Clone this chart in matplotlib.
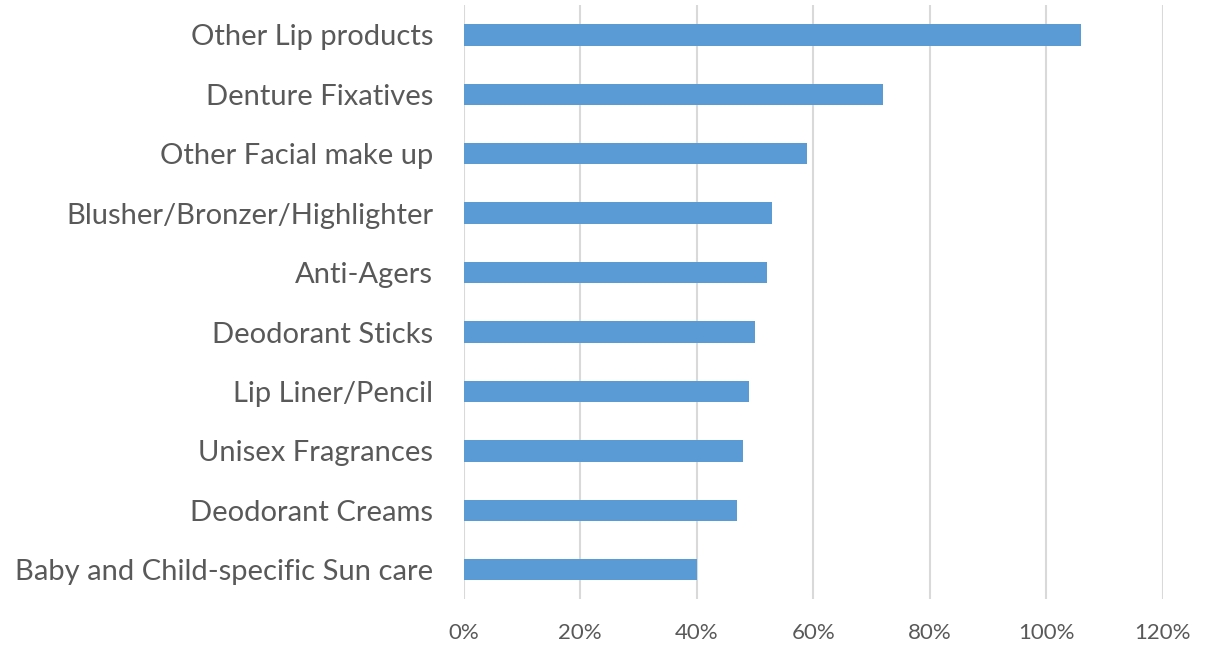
import matplotlib.pyplot as plt
from matplotlib.ticker import PercentFormatter

plt.rcParams['font.family'] = ['Lato', 'DejaVu Sans']

categories = ["Other Lip products", "Denture Fixatives", "Other Facial make up",
              "Blusher/Bronzer/Highlighter", "Anti-Agers", "Deodorant Sticks",
              "Lip Liner/Pencil", "Unisex Fragrances", "Deodorant Creams",
              "Baby and Child-specific Sun care"]
values = [1.06, 0.72, 0.59, 0.53, 0.52, 0.50, 0.49, 0.48, 0.47, 0.40]
xticks = [0, 0.2, 0.4, 0.6, 0.8, 1.0, 1.2]

fig = plt.figure(figsize=(12.2, 6.46), dpi=100)
ax = fig.add_axes([0.380, 0.072, 0.573, 0.920])

ax.barh(categories[::-1], values[::-1], height=0.36, color="#5b9bd5", zorder=3)
ax.set_xlim(0, 1.2)
ax.set_ylim(-0.5, len(categories) - 0.5)
ax.set_xticks(xticks)
ax.xaxis.set_major_formatter(PercentFormatter(1.0, decimals=0))
ax.grid(axis="x", color="#d9d9d9", linewidth=1.5, zorder=0)
for s in ax.spines.values():
    s.set_visible(False)
ax.tick_params(axis="y", length=0, pad=22, labelsize=21, labelcolor="#595959")
ax.tick_params(axis="x", length=0, pad=17, labelsize=16, labelcolor="#595959")

fig.savefig("out.png", dpi=100)
